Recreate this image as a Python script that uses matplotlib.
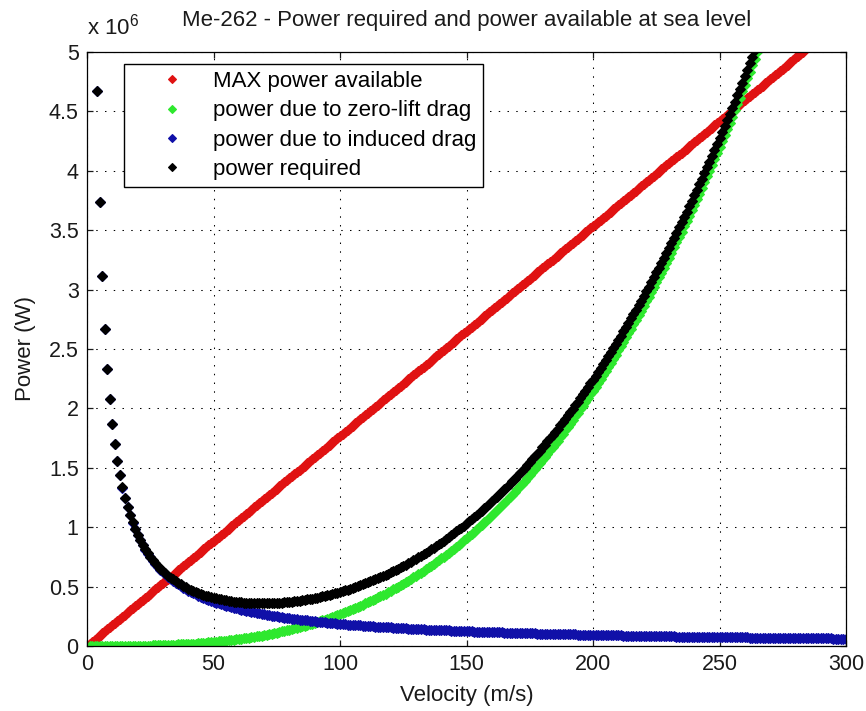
import numpy as np
import matplotlib
matplotlib.use("Agg")
import matplotlib.pyplot as plt

# Me-262 power curves (power in units of 1e6 W)
# velocity grid: 1 m/s steps starting at 1 m/s
V_MAX = 300

# MAX power available, V = 1..283 (above that it leaves the 5e6 window)
p_available = [
    0.018, 0.035, 0.053, 0.071, 0.088, 0.106, 0.124, 0.141, 0.159,
    0.177, 0.194, 0.212, 0.230, 0.247, 0.265, 0.283, 0.300, 0.318, 0.336,
    0.353, 0.371, 0.389, 0.406, 0.424, 0.442, 0.459, 0.477, 0.495, 0.512,
    0.530, 0.548, 0.565, 0.583, 0.601, 0.618, 0.636, 0.654, 0.671, 0.689,
    0.707, 0.724, 0.742, 0.760, 0.777, 0.795, 0.813, 0.830, 0.848, 0.866,
    0.883, 0.901, 0.919, 0.936, 0.954, 0.972, 0.989, 1.007, 1.025, 1.042,
    1.060, 1.078, 1.095, 1.113, 1.131, 1.148, 1.166, 1.184, 1.201, 1.219,
    1.237, 1.254, 1.272, 1.290, 1.307, 1.325, 1.343, 1.360, 1.378, 1.396,
    1.413, 1.431, 1.449, 1.466, 1.484, 1.502, 1.519, 1.537, 1.555, 1.572,
    1.590, 1.608, 1.625, 1.643, 1.661, 1.678, 1.696, 1.714, 1.731, 1.749,
    1.767, 1.784, 1.802, 1.820, 1.837, 1.855, 1.873, 1.890, 1.908, 1.926,
    1.943, 1.961, 1.979, 1.996, 2.014, 2.032, 2.049, 2.067, 2.085, 2.102,
    2.120, 2.138, 2.155, 2.173, 2.191, 2.209, 2.226, 2.244, 2.262, 2.279,
    2.297, 2.315, 2.332, 2.350, 2.368, 2.385, 2.403, 2.421, 2.438, 2.456,
    2.474, 2.491, 2.509, 2.527, 2.544, 2.562, 2.580, 2.597, 2.615, 2.633,
    2.650, 2.668, 2.686, 2.703, 2.721, 2.739, 2.756, 2.774, 2.792, 2.809,
    2.827, 2.845, 2.862, 2.880, 2.898, 2.915, 2.933, 2.951, 2.968, 2.986,
    3.004, 3.021, 3.039, 3.057, 3.074, 3.092, 3.110, 3.127, 3.145, 3.163,
    3.180, 3.198, 3.216, 3.233, 3.251, 3.269, 3.286, 3.304, 3.322, 3.339,
    3.357, 3.375, 3.392, 3.410, 3.428, 3.445, 3.463, 3.481, 3.498, 3.516,
    3.534, 3.551, 3.569, 3.587, 3.604, 3.622, 3.640, 3.657, 3.675, 3.693,
    3.710, 3.728, 3.746, 3.763, 3.781, 3.799, 3.816, 3.834, 3.852, 3.869,
    3.887, 3.905, 3.922, 3.940, 3.958, 3.975, 3.993, 4.011, 4.028, 4.046,
    4.064, 4.081, 4.099, 4.117, 4.134, 4.152, 4.170, 4.187, 4.205, 4.223,
    4.240, 4.258, 4.276, 4.293, 4.311, 4.329, 4.346, 4.364, 4.382, 4.399,
    4.417, 4.435, 4.452, 4.470, 4.488, 4.505, 4.523, 4.541, 4.558, 4.576,
    4.594, 4.611, 4.629, 4.647, 4.664, 4.682, 4.700, 4.717, 4.735, 4.753,
    4.770, 4.788, 4.806, 4.823, 4.841, 4.859, 4.876, 4.894, 4.912, 4.929,
    4.947, 4.965, 4.982, 5.000,
]

# power due to zero-lift drag, V = 1..266
p_zero_lift = [
    0.0, 0.0, 0.0, 0.0, 0.0, 0.0, 0.0, 0.0, 0.0,
    0.0, 0.0, 0.0, 0.001, 0.001, 0.001, 0.001, 0.001, 0.002, 0.002,
    0.002, 0.002, 0.003, 0.003, 0.004, 0.004, 0.005, 0.005, 0.006, 0.007,
    0.007, 0.008, 0.009, 0.010, 0.011, 0.012, 0.013, 0.014, 0.015, 0.016,
    0.017, 0.019, 0.020, 0.021, 0.023, 0.024, 0.026, 0.028, 0.030, 0.032,
    0.034, 0.036, 0.038, 0.040, 0.042, 0.045, 0.047, 0.050, 0.052, 0.055,
    0.058, 0.061, 0.064, 0.067, 0.070, 0.074, 0.077, 0.081, 0.084, 0.088,
    0.092, 0.096, 0.100, 0.105, 0.109, 0.113, 0.118, 0.123, 0.128, 0.132,
    0.138, 0.143, 0.148, 0.154, 0.159, 0.165, 0.171, 0.177, 0.183, 0.189,
    0.196, 0.202, 0.209, 0.216, 0.223, 0.230, 0.238, 0.245, 0.253, 0.261,
    0.269, 0.277, 0.285, 0.294, 0.302, 0.311, 0.320, 0.329, 0.338, 0.348,
    0.358, 0.367, 0.378, 0.388, 0.398, 0.409, 0.419, 0.430, 0.441, 0.453,
    0.464, 0.476, 0.488, 0.500, 0.512, 0.525, 0.538, 0.550, 0.564, 0.577,
    0.590, 0.604, 0.618, 0.632, 0.647, 0.661, 0.676, 0.691, 0.706, 0.722,
    0.737, 0.753, 0.769, 0.786, 0.802, 0.819, 0.836, 0.854, 0.871, 0.889,
    0.907, 0.925, 0.944, 0.962, 0.981, 1.001, 1.020, 1.040, 1.060, 1.080,
    1.101, 1.121, 1.142, 1.164, 1.185, 1.207, 1.229, 1.251, 1.274, 1.297,
    1.320, 1.344, 1.367, 1.391, 1.416, 1.440, 1.465, 1.490, 1.515, 1.541,
    1.567, 1.593, 1.620, 1.647, 1.674, 1.701, 1.729, 1.757, 1.785, 1.814,
    1.843, 1.872, 1.902, 1.932, 1.962, 1.992, 2.023, 2.054, 2.086, 2.118,
    2.150, 2.182, 2.215, 2.248, 2.281, 2.315, 2.349, 2.383, 2.418, 2.453,
    2.488, 2.524, 2.560, 2.597, 2.633, 2.670, 2.708, 2.746, 2.784, 2.822,
    2.861, 2.900, 2.940, 2.980, 3.020, 3.061, 3.102, 3.143, 3.185, 3.227,
    3.269, 3.312, 3.355, 3.399, 3.443, 3.487, 3.532, 3.577, 3.622, 3.668,
    3.715, 3.761, 3.808, 3.856, 3.903, 3.952, 4.000, 4.049, 4.098, 4.148,
    4.198, 4.249, 4.300, 4.351, 4.403, 4.455, 4.508, 4.561, 4.615, 4.668,
    4.723, 4.777, 4.832, 4.888, 4.944, 5.000, 5.057,
]

# power due to induced drag, V = 1..300
p_induced = [
    18.68, 9.340, 6.227, 4.670, 3.736, 3.113, 2.669, 2.335, 2.076,
    1.868, 1.698, 1.557, 1.437, 1.334, 1.245, 1.168, 1.099, 1.038, 0.983,
    0.934, 0.890, 0.849, 0.812, 0.778, 0.747, 0.718, 0.692, 0.667, 0.644,
    0.623, 0.603, 0.584, 0.566, 0.549, 0.534, 0.519, 0.505, 0.492, 0.479,
    0.467, 0.456, 0.445, 0.434, 0.425, 0.415, 0.406, 0.397, 0.389, 0.381,
    0.374, 0.366, 0.359, 0.352, 0.346, 0.340, 0.334, 0.328, 0.322, 0.317,
    0.311, 0.306, 0.301, 0.297, 0.292, 0.287, 0.283, 0.279, 0.275, 0.271,
    0.267, 0.263, 0.259, 0.256, 0.252, 0.249, 0.246, 0.243, 0.239, 0.236,
    0.234, 0.231, 0.228, 0.225, 0.222, 0.220, 0.217, 0.215, 0.212, 0.210,
    0.208, 0.205, 0.203, 0.201, 0.199, 0.197, 0.195, 0.193, 0.191, 0.189,
    0.187, 0.185, 0.183, 0.181, 0.180, 0.178, 0.176, 0.175, 0.173, 0.171,
    0.170, 0.168, 0.167, 0.165, 0.164, 0.162, 0.161, 0.160, 0.158, 0.157,
    0.156, 0.154, 0.153, 0.152, 0.151, 0.149, 0.148, 0.147, 0.146, 0.145,
    0.144, 0.143, 0.142, 0.140, 0.139, 0.138, 0.137, 0.136, 0.135, 0.134,
    0.133, 0.132, 0.132, 0.131, 0.130, 0.129, 0.128, 0.127, 0.126, 0.125,
    0.125, 0.124, 0.123, 0.122, 0.121, 0.121, 0.120, 0.119, 0.118, 0.117,
    0.117, 0.116, 0.115, 0.115, 0.114, 0.113, 0.113, 0.112, 0.111, 0.111,
    0.110, 0.109, 0.109, 0.108, 0.107, 0.107, 0.106, 0.106, 0.105, 0.104,
    0.104, 0.103, 0.103, 0.102, 0.102, 0.101, 0.100, 0.100, 0.099, 0.099,
    0.098, 0.098, 0.097, 0.097, 0.096, 0.096, 0.095, 0.095, 0.094, 0.094,
    0.093, 0.093, 0.092, 0.092, 0.092, 0.091, 0.091, 0.090, 0.090, 0.089,
    0.089, 0.089, 0.088, 0.088, 0.087, 0.087, 0.086, 0.086, 0.086, 0.085,
    0.085, 0.085, 0.084, 0.084, 0.083, 0.083, 0.083, 0.082, 0.082, 0.082,
    0.081, 0.081, 0.081, 0.080, 0.080, 0.079, 0.079, 0.079, 0.078, 0.078,
    0.078, 0.078, 0.077, 0.077, 0.077, 0.076, 0.076, 0.076, 0.075, 0.075,
    0.075, 0.074, 0.074, 0.074, 0.074, 0.073, 0.073, 0.073, 0.072, 0.072,
    0.072, 0.072, 0.071, 0.071, 0.071, 0.070, 0.070, 0.070, 0.070, 0.069,
    0.069, 0.069, 0.069, 0.068, 0.068, 0.068, 0.068, 0.067, 0.067, 0.067,
    0.067, 0.066, 0.066, 0.066, 0.066, 0.066, 0.065, 0.065, 0.065, 0.065,
    0.064, 0.064, 0.064, 0.064, 0.064, 0.063, 0.063, 0.063, 0.063, 0.062,
    0.062,
]

# power required, V = 1..264
p_required = [
    18.68, 9.340, 6.227, 4.670, 3.736, 3.113, 2.669, 2.335, 2.076,
    1.868, 1.698, 1.557, 1.438, 1.335, 1.246, 1.169, 1.100, 1.040, 0.985,
    0.936, 0.892, 0.852, 0.815, 0.782, 0.751, 0.723, 0.697, 0.673, 0.651,
    0.630, 0.611, 0.593, 0.576, 0.560, 0.546, 0.532, 0.519, 0.507, 0.495,
    0.484, 0.475, 0.465, 0.455, 0.448, 0.439, 0.432, 0.425, 0.419, 0.413,
    0.408, 0.402, 0.397, 0.392, 0.388, 0.385, 0.381, 0.378, 0.374, 0.372,
    0.369, 0.367, 0.365, 0.364, 0.362, 0.361, 0.360, 0.360, 0.359, 0.359,
    0.359, 0.359, 0.359, 0.361, 0.361, 0.362, 0.364, 0.366, 0.367, 0.368,
    0.372, 0.374, 0.376, 0.379, 0.381, 0.385, 0.388, 0.392, 0.395, 0.399,
    0.404, 0.407, 0.412, 0.417, 0.422, 0.427, 0.433, 0.438, 0.444, 0.450,
    0.456, 0.462, 0.468, 0.475, 0.482, 0.489, 0.496, 0.504, 0.511, 0.519,
    0.528, 0.535, 0.545, 0.553, 0.562, 0.571, 0.580, 0.590, 0.599, 0.610,
    0.620, 0.630, 0.641, 0.652, 0.663, 0.674, 0.686, 0.697, 0.710, 0.722,
    0.734, 0.747, 0.760, 0.772, 0.786, 0.799, 0.813, 0.827, 0.841, 0.856,
    0.870, 0.885, 0.901, 0.917, 0.932, 0.948, 0.964, 0.981, 0.997, 1.014,
    1.032, 1.049, 1.067, 1.084, 1.102, 1.122, 1.140, 1.159, 1.178, 1.197,
    1.218, 1.237, 1.257, 1.279, 1.299, 1.320, 1.342, 1.363, 1.385, 1.408,
    1.430, 1.453, 1.476, 1.499, 1.523, 1.547, 1.571, 1.596, 1.620, 1.645,
    1.671, 1.696, 1.723, 1.749, 1.776, 1.802, 1.829, 1.857, 1.884, 1.913,
    1.941, 1.970, 1.999, 2.029, 2.058, 2.088, 2.118, 2.149, 2.180, 2.212,
    2.243, 2.275, 2.307, 2.340, 2.373, 2.406, 2.440, 2.473, 2.508, 2.542,
    2.577, 2.613, 2.648, 2.685, 2.720, 2.757, 2.794, 2.832, 2.870, 2.907,
    2.946, 2.985, 3.024, 3.064, 3.103, 3.144, 3.185, 3.225, 3.267, 3.309,
    3.350, 3.393, 3.436, 3.479, 3.523, 3.566, 3.611, 3.656, 3.700, 3.746,
    3.793, 3.839, 3.885, 3.933, 3.980, 4.028, 4.076, 4.125, 4.173, 4.223,
    4.273, 4.323, 4.374, 4.425, 4.477, 4.528, 4.581, 4.634, 4.687, 4.740,
    4.795, 4.849, 4.903, 4.959, 5.015,
]

series = [
    ("MAX power available", p_available, "#e01212"),
    ("power due to zero-lift drag", p_zero_lift, "#2ee82e"),
    ("power due to induced drag", p_induced, "#1010a8"),
    ("power required", p_required, "#000000"),
]

x_ticks = [0, 50, 100, 150, 200, 250, 300]
y_ticks = [0, 0.5, 1, 1.5, 2, 2.5, 3, 3.5, 4, 4.5, 5]

plt.rcParams['font.family'] = ['Liberation Sans', 'DejaVu Sans']
plt.rcParams['mathtext.fontset'] = 'custom'
plt.rcParams['mathtext.rm'] = 'Liberation Sans'

FS = 16
TXT = '#1a1a1a'

fig = plt.figure(figsize=(8.66, 7.11), dpi=100)
fig.patch.set_facecolor('white')
ax = fig.add_axes([0.1005, 0.0914, 0.8764, 0.8355])

velocity = np.arange(1, V_MAX + 1)
for label, values, color in series:
    ax.plot(velocity[:len(values)], values, linestyle='none', marker='D',
            markersize=4.8, markeredgewidth=0.8, color=color,
            markeredgecolor=color, label=label)

ax.set_xlim(0, 300)
ax.set_ylim(0, 5)
ax.set_xticks(x_ticks)
ax.set_yticks(y_ticks)
ax.set_xticklabels([str(t) for t in x_ticks])
ax.set_yticklabels(['%g' % t for t in y_ticks])

ax.set_axisbelow(True)
ax.grid(True, color='k', linewidth=0.75, linestyle=(0, (1.4, 7.0)))
for sp in ax.spines.values():
    sp.set_linewidth(0.9)
ax.tick_params(direction='in', length=4.5, width=0.9, top=True, right=True,
               labelsize=15.5, colors=TXT)
ax.tick_params(axis='x', pad=5.5)
ax.tick_params(axis='y', pad=6.0)

ax.set_title('Me-262 - Power required and power available at sea level',
             fontsize=FS, pad=19, color=TXT)
ax.set_xlabel('Velocity (m/s)', fontsize=FS, color=TXT)
ax.set_ylabel('Power (W)', fontsize=FS, color=TXT)
ax.xaxis.set_label_coords(0.5, -0.066)
ax.yaxis.set_label_coords(-0.067, 0.5)

ax.text(0.0, 1.03, r'x $\mathregular{10^{6}}$', transform=ax.transAxes,
        ha='left', va='baseline', fontsize=FS, color=TXT)

leg = ax.legend(loc='upper left', bbox_to_anchor=(0.0487, 0.9798),
                borderaxespad=0, fontsize=FS, numpoints=1, fancybox=False,
                framealpha=1, edgecolor='k', borderpad=0.32,
                labelspacing=0.37, handlelength=3.68, handletextpad=0.0,
                markerscale=0.85)
leg.get_frame().set_linewidth(1.0)

fig.savefig('out.png', dpi=100, facecolor='white')
